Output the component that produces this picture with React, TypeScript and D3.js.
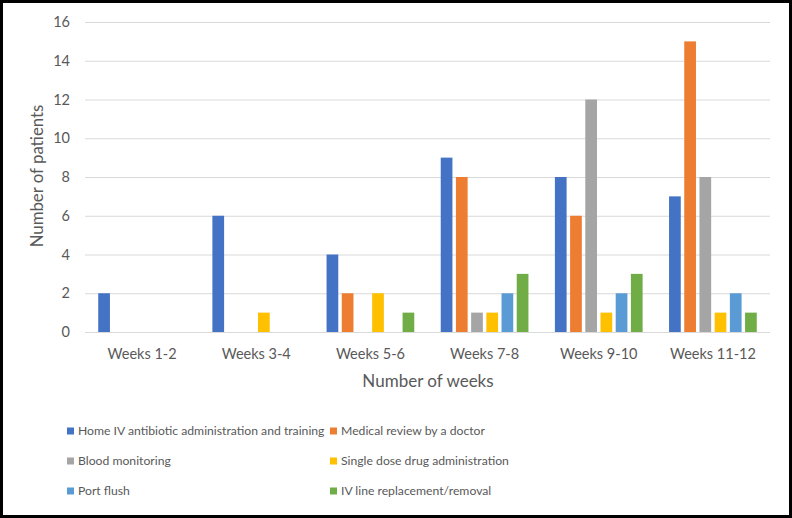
import React, { useEffect, useRef } from "react";
import * as d3 from "d3";

const categories = ["Weeks 1-2", "Weeks 3-4", "Weeks 5-6", "Weeks 7-8", "Weeks 9-10", "Weeks 11-12"];
const seriesNames = [
  "Home IV antibiotic administration and training",
  "Medical review by a doctor",
  "Blood monitoring",
  "Single dose drug administration",
  "Port flush",
  "IV line replacement/removal",
];
const colors = ["#4472C4", "#ED7D31", "#A5A5A5", "#FFC000", "#5B9BD5", "#70AD47"];
const homeIV = [2, 6, 4, 9, 8, 7];
const medicalReview = [0, 0, 2, 8, 6, 15];
const bloodMonitoring = [0, 0, 0, 1, 12, 8];
const singleDose = [0, 1, 2, 1, 1, 1];
const portFlush = [0, 0, 0, 2, 2, 2];
const ivLine = [0, 0, 1, 3, 3, 1];
const yTicks = [0, 2, 4, 6, 8, 10, 12, 14, 16];

const values = [homeIV, medicalReview, bloodMonitoring, singleDose, portFlush, ivLine];

const W = 792;
const H = 518;
const FONT = "Lato, 'Open Sans', sans-serif";

const App = () => {
  const svgRef = useRef(null);

  useEffect(() => {
    document.body.style.margin = "0";
    const svg = d3.select(svgRef.current);
    svg.selectAll("*").remove();

    const left = 85, right = 770, top = 22, bottom = 332;
    const x0 = d3.scaleBand().domain(categories).range([left, right]);
    const x1 = d3
      .scaleBand()
      .domain(seriesNames)
      .range([0, x0.bandwidth()])
      .paddingInner(0.23)
      .paddingOuter(0.87);
    const y = d3.scaleLinear().domain([0, 16]).range([bottom, top]);

    svg.append("rect").attr("width", W).attr("height", H).attr("fill", "#fff");

    // gridlines
    svg
      .append("g")
      .selectAll("line")
      .data(yTicks)
      .join("line")
      .attr("x1", left)
      .attr("x2", right)
      .attr("y1", (d) => y(d) + 0.5)
      .attr("y2", (d) => y(d) + 0.5)
      .attr("stroke", "#D9D9D9")
      .attr("stroke-width", 1);

    // y tick labels
    svg
      .append("g")
      .selectAll("text")
      .data(yTicks)
      .join("text")
      .attr("x", 70)
      .attr("y", (d) => y(d))
      .attr("dy", "0.35em")
      .attr("text-anchor", "end")
      .attr("font-family", FONT)
      .attr("font-size", 14.5)
      .attr("fill", "#595959")
      .text((d) => d);

    // bars
    const groups = svg
      .append("g")
      .selectAll("g")
      .data(categories)
      .join("g")
      .attr("transform", (d) => `translate(${x0(d)},0)`);

    groups
      .selectAll("rect")
      .data((_, i) => seriesNames.map((s, k) => ({ s, k, v: values[k][i] })))
      .join("rect")
      .filter((d) => d.v > 0)
      .attr("x", (d) => x1(d.s))
      .attr("width", x1.bandwidth())
      .attr("y", (d) => y(d.v))
      .attr("height", (d) => y(0) - y(d.v))
      .attr("fill", (d) => colors[d.k]);

    // x labels
    svg
      .append("g")
      .selectAll("text")
      .data(categories)
      .join("text")
      .attr("x", (d) => x0(d) + x0.bandwidth() / 2)
      .attr("y", 354)
      .attr("dy", "0.35em")
      .attr("text-anchor", "middle")
      .attr("font-family", FONT)
      .attr("font-size", 14.5)
      .attr("fill", "#595959")
      .text((d) => d);

    // axis titles
    svg
      .append("text")
      .attr("x", 428)
      .attr("y", 381)
      .attr("dy", "0.35em")
      .attr("text-anchor", "middle")
      .attr("font-family", FONT)
      .attr("font-size", 17)
      .attr("fill", "#595959")
      .text("Number of weeks");

    svg
      .append("text")
      .attr("transform", `translate(37,176) rotate(-90)`)
      .attr("dy", "0.35em")
      .attr("text-anchor", "middle")
      .attr("font-family", FONT)
      .attr("font-size", 16.8)
      .attr("fill", "#595959")
      .text("Number of patients");

    // legend
    const legendX = [67, 330];
    const legendY = [431, 461, 491];
    const leg = svg
      .append("g")
      .selectAll("g")
      .data(seriesNames)
      .join("g")
      .attr("transform", (_, i) => `translate(${legendX[i % 2]},${legendY[Math.floor(i / 2)]})`);
    leg
      .append("rect")
      .attr("x", 0)
      .attr("y", -3.5)
      .attr("width", 7)
      .attr("height", 7)
      .attr("fill", (_, i) => colors[i]);
    leg
      .append("text")
      .attr("x", 11)
      .attr("dy", "0.35em")
      .attr("font-family", FONT)
      .attr("font-size", 12.2)
      .attr("fill", "#595959")
      .text((d) => d);

    // frame
    svg
      .append("rect")
      .attr("x", 1.5)
      .attr("y", 1.5)
      .attr("width", W - 3)
      .attr("height", H - 3)
      .attr("fill", "none")
      .attr("stroke", "#000")
      .attr("stroke-width", 3);
  }, []);

  return <svg ref={svgRef} width={W} height={H} style={{ display: "block" }}></svg>;
};

export default App;
